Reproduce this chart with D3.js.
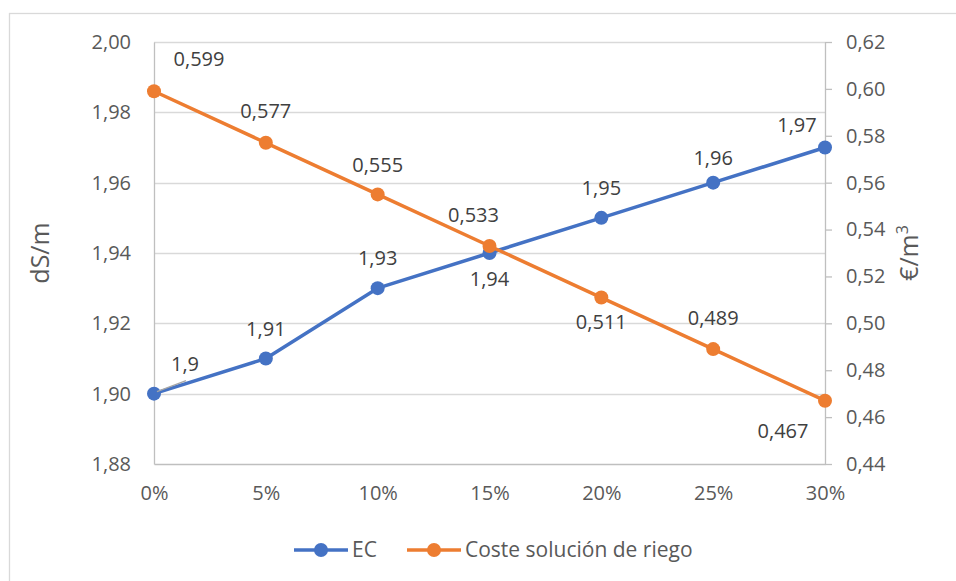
<!DOCTYPE html>
<html>
<head>
<meta charset="utf-8">
<script src="https://cdn.jsdelivr.net/npm/d3@7"></script>
<style>
  html, body { margin: 0; padding: 0; background: #ffffff; }
  svg { display: block; font-family: "Open Sans", Lato, sans-serif; }
</style>
</head>
<body>
<svg id="chart" width="956" height="581"></svg>
<script>
// Categories (percentage) and the two series
const categories = ["0%", "5%", "10%", "15%", "20%", "25%", "30%"];
const ecValues = [1.90, 1.91, 1.93, 1.94, 1.95, 1.96, 1.97];
const ecLabels = ["1,9", "1,91", "1,93", "1,94", "1,95", "1,96", "1,97"];
const costValues = [0.599, 0.577, 0.555, 0.533, 0.511, 0.489, 0.467];
const costLabels = ["0,599", "0,577", "0,555", "0,533", "0,511", "0,489", "0,467"];
const leftTicks = [1.88, 1.90, 1.92, 1.94, 1.96, 1.98, 2.00];
const rightTicks = [0.44, 0.46, 0.48, 0.50, 0.52, 0.54, 0.56, 0.58, 0.60, 0.62];

// Label placement (pixel offsets of the label centre from its point)
const ecLabelOffset = [[31, -30], [0, -30], [0, -30], [0, 26], [0, -30], [0, -25], [-28, -23]];
const costLabelOffset = [[45, -32], [0, -32], [0, -29], [-16, -31], [0, 24], [0, -31], [-42, 30]];

const BLUE = "#4472C4", ORANGE = "#ED7D31";
const TEXT = "#595959", AXIS = "#BFBFBF", GRID = "#D9D9D9";
const FONT = "20px";
const fmt = d => d3.format(".2f")(d).replace(".", ",");

const svg = d3.select("#chart");

// Chart frame
svg.append("rect").attr("x", 9.5).attr("y", 13.5).attr("width", 960).attr("height", 600)
  .attr("fill", "#fff").attr("stroke", "#D9D9D9").attr("stroke-width", 1.3);

const plot = { left: 154, right: 825, top: 42, bottom: 464 };

const x = d3.scalePoint().domain(categories).range([plot.left, plot.right]);
const yL = d3.scaleLinear().domain([1.88, 2.00]).range([plot.bottom, plot.top]);
const yR = d3.scaleLinear().domain([0.44, 0.62]).range([plot.bottom, plot.top]);

// Horizontal gridlines
svg.append("g").selectAll("line").data(leftTicks.slice(1)).join("line")
  .attr("x1", plot.left).attr("x2", plot.right)
  .attr("y1", d => Math.round(yL(d)) + 0.5).attr("y2", d => Math.round(yL(d)) + 0.5)
  .attr("stroke", GRID).attr("stroke-width", 1.3);

function styleText(g) {
  g.selectAll("text").attr("fill", TEXT).style("font-size", FONT).style("font-family", "'Open Sans', sans-serif");
}

// Left axis
const gL = svg.append("g").attr("transform", `translate(${plot.left},0)`)
  .call(d3.axisLeft(yL).tickValues(leftTicks).tickFormat(fmt).tickSize(0).tickPadding(23));
gL.select(".domain").attr("stroke", AXIS).attr("stroke-width", 1.3);
styleText(gL);

// Right axis
const gR = svg.append("g").attr("transform", `translate(${plot.right},0)`)
  .call(d3.axisRight(yR).tickValues(rightTicks).tickFormat(fmt).tickSize(7).tickSizeOuter(0).tickPadding(14));
gR.select(".domain").attr("stroke", AXIS).attr("stroke-width", 1.3);
gR.selectAll(".tick line").attr("stroke", AXIS).attr("stroke-width", 1.3);
styleText(gR);

// Bottom axis
const gX = svg.append("g").attr("transform", `translate(0,${plot.bottom})`)
  .call(d3.axisBottom(x).tickSize(0).tickPadding(22));
gX.select(".domain").attr("stroke", AXIS).attr("stroke-width", 1.3);
styleText(gX);

// Axis titles
svg.append("text").attr("transform", `translate(49,253) rotate(-90)`)
  .attr("text-anchor", "middle").attr("fill", TEXT).style("font-size", "25px").text("dS/m");
const rt = svg.append("text").attr("transform", `translate(918,253) rotate(-90)`)
  .attr("text-anchor", "middle").attr("fill", TEXT).style("font-size", "25px");
rt.append("tspan").text("€/m");
rt.append("tspan").attr("dy", -10).style("font-size", "16px").text("3");

// Series
const series = [
  { values: ecValues, labels: ecLabels, offsets: ecLabelOffset, y: yL, color: BLUE },
  { values: costValues, labels: costLabels, offsets: costLabelOffset, y: yR, color: ORANGE }
];

series.forEach(s => {
  const line = d3.line().x((d, i) => x(categories[i])).y(d => s.y(d));
  svg.append("path").datum(s.values).attr("d", line)
    .attr("fill", "none").attr("stroke", s.color).attr("stroke-width", 3.5).attr("stroke-linejoin", "round");
  svg.append("g").selectAll("circle").data(s.values).join("circle")
    .attr("cx", (d, i) => x(categories[i])).attr("cy", d => s.y(d)).attr("r", 7)
    .attr("fill", s.color);
});

// Leader line for the first EC label
svg.append("line")
  .attr("x1", x(categories[0]) + 3).attr("y1", yL(ecValues[0]) - 2)
  .attr("x2", x(categories[0]) + 32).attr("y2", yL(ecValues[0]) - 13)
  .attr("stroke", "#A6A6A6").attr("stroke-width", 1.3);

// Data labels
series.forEach(s => {
  svg.append("g").selectAll("text").data(s.values).join("text")
    .attr("x", (d, i) => x(categories[i]) + s.offsets[i][0])
    .attr("y", (d, i) => s.y(d) + s.offsets[i][1])
    .attr("dy", "0.35em").attr("text-anchor", "middle")
    .attr("fill", "#404040").style("font-size", FONT)
    .text((d, i) => s.labels[i]);
});

// Legend
const legend = svg.append("g").attr("transform", "translate(0,550)");
const items = [
  { name: "EC", color: BLUE, x0: 294 },
  { name: "Coste solución de riego", color: ORANGE, x0: 407 }
];
items.forEach(it => {
  legend.append("line").attr("x1", it.x0).attr("x2", it.x0 + 54).attr("y1", 0).attr("y2", 0)
    .attr("stroke", it.color).attr("stroke-width", 3.5);
  legend.append("circle").attr("cx", it.x0 + 27).attr("cy", 0).attr("r", 7).attr("fill", it.color);
  legend.append("text").attr("x", it.x0 + 58).attr("y", 0).attr("dy", "0.35em")
    .attr("fill", TEXT).style("font-size", "21px").text(it.name);
});
</script>
</body>
</html>
